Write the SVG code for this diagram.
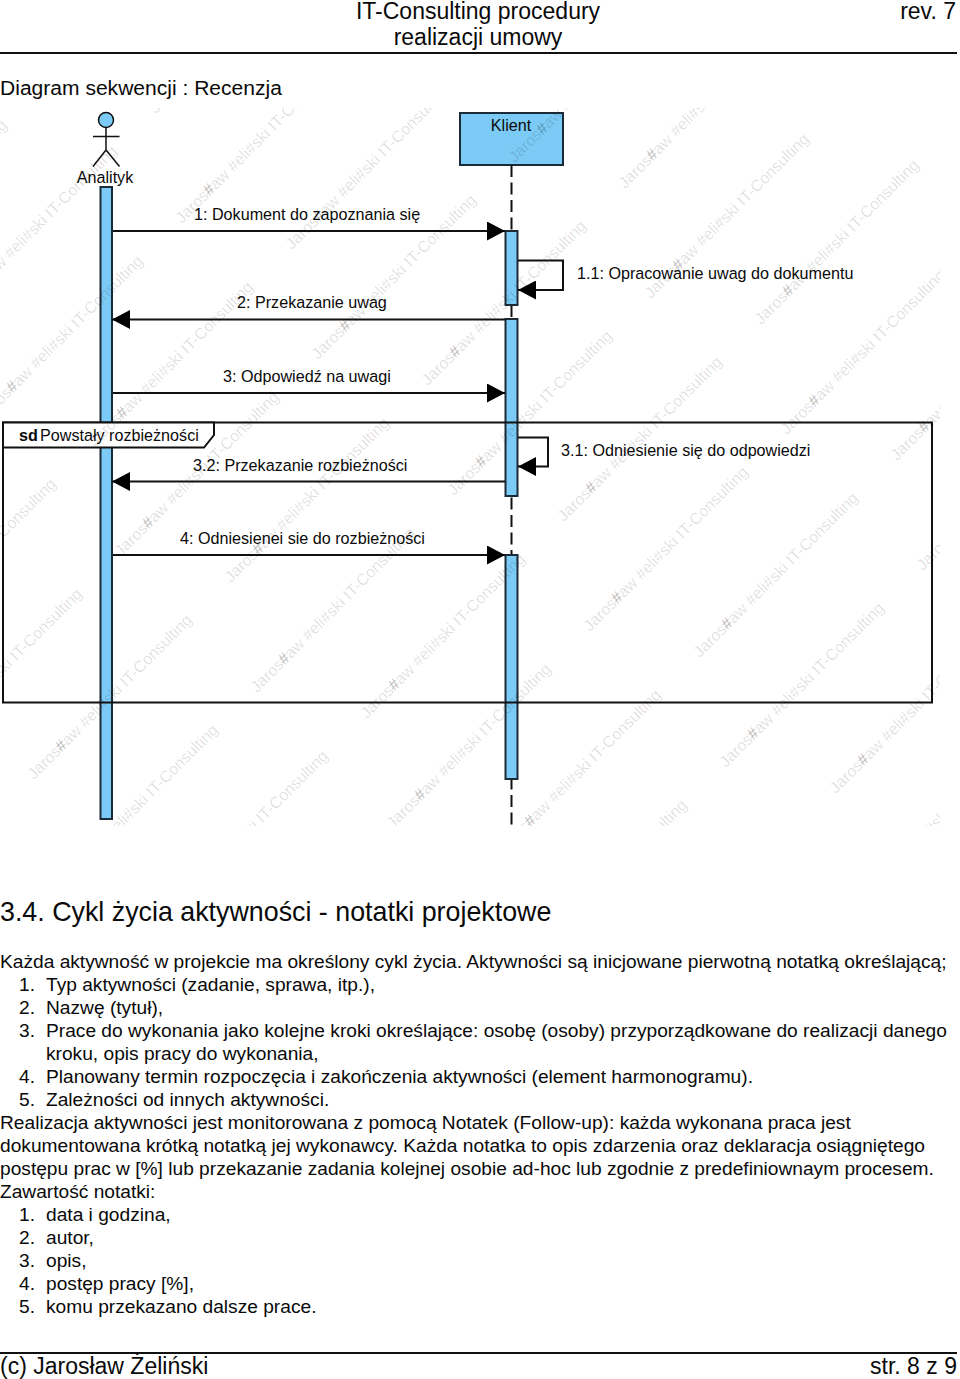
<svg xmlns="http://www.w3.org/2000/svg" width="960" height="1379" viewBox="0 0 960 1379">
<style>
text{font-family:"Liberation Sans",Arial,sans-serif;fill:#0a0a0a}
.b{font-size:19.17px}.h{font-size:23px}.l{font-size:16.15px}
.wm{font-size:16px;fill:#000;fill-opacity:.13;text-anchor:end}
.wm tspan{fill-opacity:.3}
.bar{fill:#7ccbf6;stroke:#1a2a36;stroke-width:2}
.ln{fill:none;stroke:#111;stroke-width:2}
.ah{fill:#000}
</style>
<defs>
<clipPath id="wc"><rect x="0" y="108" width="940" height="718"/></clipPath>
<marker id="ah" viewBox="0 0 18 19" refX="18" refY="9.5" markerWidth="18" markerHeight="19" markerUnits="userSpaceOnUse" orient="auto"><path class="ah" d="M0 0L18 9.5L0 19Z"/></marker>
</defs>
<rect width="960" height="1379" fill="#fff"/>
<g id="page-header">
<text class="h" x="478" y="19" text-anchor="middle">IT-Consulting procedury</text>
<text class="h" x="478" y="45" text-anchor="middle">realizacji umowy</text>
<text class="h" x="956" y="19" text-anchor="end">rev. 7</text>
<path class="ln" d="M0 53H957"/>
<text x="0" y="95" font-size="21.05">Diagram sekwencji : Recenzja</text>
</g>
<g id="actor-analityk">
<circle cx="106" cy="120" r="7.5" fill="#7ccbf6" stroke="#111" stroke-width="1.5"/>
<path fill="none" stroke="#111" stroke-width="1.5" d="M93 136.5H119.5M106 127.5V150M93 166.5L106 150L119.5 166.5"/>
<text class="l" x="105" y="182.5" text-anchor="middle">Analityk</text>
<rect class="bar" x="100.5" y="187" width="11.5" height="632"/>
</g>
<g id="lifeline-klient">
<path stroke="#111" stroke-width="2" stroke-dasharray="12 5.5" d="M511.5 165V825"/>
<rect x="460" y="113" width="103" height="52" fill="#7ccbf6" stroke="#1a2a36" stroke-width="2"/>
<text class="l" x="511" y="131" text-anchor="middle">Klient</text>
<rect class="bar" x="505.5" y="231" width="12" height="74"/>
<rect class="bar" x="505.5" y="319" width="12" height="177"/>
<rect class="bar" x="505.5" y="555" width="12" height="224"/>
</g>
<g id="connectors">
<path class="ln" marker-end="url(#ah)" d="M113 231H505"/>
<path class="ln" marker-end="url(#ah)" d="M518 260.5H563V290H518"/>
<path class="ln" marker-end="url(#ah)" d="M505 319.5H112"/>
<path class="ln" marker-end="url(#ah)" d="M113 393H505"/>
<path class="ln" marker-end="url(#ah)" d="M518 437.5H548V466.5H518"/>
<path class="ln" marker-end="url(#ah)" d="M505 481.5H112"/>
<path class="ln" marker-end="url(#ah)" d="M113 555H505"/>
</g>
<g id="frame-sd">
<rect class="ln" x="3" y="422.5" width="929" height="280"/>
<path d="M3 422.5H214V435L204 447.5H3Z" fill="#fff" stroke="#111" stroke-width="2"/>
<text class="l" x="19" y="440.5" font-weight="bold">sd</text>
<text class="l" x="40" y="440.5">Powstały rozbieżności</text>
</g>
<g id="labels">
<text class="l" x="194" y="219.5">1: Dokument do zapoznania się</text>
<text class="l" x="577" y="278.5">1.1: Opracowanie uwag do dokumentu</text>
<text class="l" x="237" y="307.5">2: Przekazanie uwag</text>
<text class="l" x="223" y="381.5">3: Odpowiedź na uwagi</text>
<text class="l" x="561" y="455.5">3.1: Odniesienie się do odpowiedzi</text>
<text class="l" x="193" y="470.5">3.2: Przekazanie rozbieżności</text>
<text class="l" x="180" y="543.5">4: Odniesienei sie do rozbieżności</text>
</g>
<g id="watermark" clip-path="url(#wc)"><g transform="translate(-3.5 1.5)">
<text class="wm" transform="translate(8 121) rotate(-45)" y="5">Jaros<tspan>#</tspan>aw #eli#ski IT-Consulting</text>
<text class="wm" transform="translate(144 257) rotate(-45)" y="5">Jaros<tspan>#</tspan>aw #eli#ski IT-Consulting</text>
<text class="wm" transform="translate(341 60) rotate(-45)" y="5">Jaros<tspan>#</tspan>aw #eli#ski IT-Consulting</text>
<text class="wm" transform="translate(83 590) rotate(-45)" y="5">Jaros<tspan>#</tspan>aw #eli#ski IT-Consulting</text>
<text class="wm" transform="translate(280 393) rotate(-45)" y="5">Jaros<tspan>#</tspan>aw #eli#ski IT-Consulting</text>
<text class="wm" transform="translate(477 196) rotate(-45)" y="5">Jaros<tspan>#</tspan>aw #eli#ski IT-Consulting</text>
<text class="wm" transform="translate(674 -1) rotate(-45)" y="5">Jaros<tspan>#</tspan>aw #eli#ski IT-Consulting</text>
<text class="wm" transform="translate(219 726) rotate(-45)" y="5">Jaros<tspan>#</tspan>aw #eli#ski IT-Consulting</text>
<text class="wm" transform="translate(416 529) rotate(-45)" y="5">Jaros<tspan>#</tspan>aw #eli#ski IT-Consulting</text>
<text class="wm" transform="translate(613 332) rotate(-45)" y="5">Jaros<tspan>#</tspan>aw #eli#ski IT-Consulting</text>
<text class="wm" transform="translate(810 135) rotate(-45)" y="5">Jaros<tspan>#</tspan>aw #eli#ski IT-Consulting</text>
<text class="wm" transform="translate(552 665) rotate(-45)" y="5">Jaros<tspan>#</tspan>aw #eli#ski IT-Consulting</text>
<text class="wm" transform="translate(749 468) rotate(-45)" y="5">Jaros<tspan>#</tspan>aw #eli#ski IT-Consulting</text>
<text class="wm" transform="translate(946 271) rotate(-45)" y="5">Jaros<tspan>#</tspan>aw #eli#ski IT-Consulting</text>
<text class="wm" transform="translate(688 801) rotate(-45)" y="5">Jaros<tspan>#</tspan>aw #eli#ski IT-Consulting</text>
<text class="wm" transform="translate(885 604) rotate(-45)" y="5">Jaros<tspan>#</tspan>aw #eli#ski IT-Consulting</text>
<text class="wm" transform="translate(1082 407) rotate(-45)" y="5">Jaros<tspan>#</tspan>aw #eli#ski IT-Consulting</text>
<text class="wm" transform="translate(1021 740) rotate(-45)" y="5">Jaros<tspan>#</tspan>aw #eli#ski IT-Consulting</text>
<text class="wm" transform="translate(118 147) rotate(-45)" y="5">Jaros<tspan>#</tspan>aw #eli#ski IT-Consulting</text>
<text class="wm" transform="translate(315 -50) rotate(-45)" y="5">Jaros<tspan>#</tspan>aw #eli#ski IT-Consulting</text>
<text class="wm" transform="translate(57 480) rotate(-45)" y="5">Jaros<tspan>#</tspan>aw #eli#ski IT-Consulting</text>
<text class="wm" transform="translate(254 283) rotate(-45)" y="5">Jaros<tspan>#</tspan>aw #eli#ski IT-Consulting</text>
<text class="wm" transform="translate(451 86) rotate(-45)" y="5">Jaros<tspan>#</tspan>aw #eli#ski IT-Consulting</text>
<text class="wm" transform="translate(193 616) rotate(-45)" y="5">Jaros<tspan>#</tspan>aw #eli#ski IT-Consulting</text>
<text class="wm" transform="translate(390 419) rotate(-45)" y="5">Jaros<tspan>#</tspan>aw #eli#ski IT-Consulting</text>
<text class="wm" transform="translate(587 222) rotate(-45)" y="5">Jaros<tspan>#</tspan>aw #eli#ski IT-Consulting</text>
<text class="wm" transform="translate(784 25) rotate(-45)" y="5">Jaros<tspan>#</tspan>aw #eli#ski IT-Consulting</text>
<text class="wm" transform="translate(329 752) rotate(-45)" y="5">Jaros<tspan>#</tspan>aw #eli#ski IT-Consulting</text>
<text class="wm" transform="translate(526 555) rotate(-45)" y="5">Jaros<tspan>#</tspan>aw #eli#ski IT-Consulting</text>
<text class="wm" transform="translate(723 358) rotate(-45)" y="5">Jaros<tspan>#</tspan>aw #eli#ski IT-Consulting</text>
<text class="wm" transform="translate(920 161) rotate(-45)" y="5">Jaros<tspan>#</tspan>aw #eli#ski IT-Consulting</text>
<text class="wm" transform="translate(662 691) rotate(-45)" y="5">Jaros<tspan>#</tspan>aw #eli#ski IT-Consulting</text>
<text class="wm" transform="translate(859 494) rotate(-45)" y="5">Jaros<tspan>#</tspan>aw #eli#ski IT-Consulting</text>
<text class="wm" transform="translate(1056 297) rotate(-45)" y="5">Jaros<tspan>#</tspan>aw #eli#ski IT-Consulting</text>
<text class="wm" transform="translate(798 827) rotate(-45)" y="5">Jaros<tspan>#</tspan>aw #eli#ski IT-Consulting</text>
<text class="wm" transform="translate(995 630) rotate(-45)" y="5">Jaros<tspan>#</tspan>aw #eli#ski IT-Consulting</text>
</g></g>
<g id="body">
<text x="0" y="921" font-size="26.82">3.4. Cykl życia aktywności - notatki projektowe</text>
<text class="b" x="0" y="967.5">Każda aktywność w projekcie ma określony cykl życia. Aktywności są inicjowane pierwotną notatką określającą;</text>
<text class="b" x="19" y="990.5">1.</text><text class="b" x="46" y="990.5">Typ aktywności (zadanie, sprawa, itp.),</text>
<text class="b" x="19" y="1013.5">2.</text><text class="b" x="46" y="1013.5">Nazwę (tytuł),</text>
<text class="b" x="19" y="1036.5">3.</text><text class="b" x="46" y="1036.5">Prace do wykonania jako kolejne kroki określające: osobę (osoby) przyporządkowane do realizacji danego</text>
<text class="b" x="46" y="1059.5">kroku, opis pracy do wykonania,</text>
<text class="b" x="19" y="1082.5">4.</text><text class="b" x="46" y="1082.5">Planowany termin rozpoczęcia i zakończenia aktywności (element harmonogramu).</text>
<text class="b" x="19" y="1105.5">5.</text><text class="b" x="46" y="1105.5">Zależności od innych aktywności.</text>
<text class="b" x="0" y="1128.5">Realizacja aktywności jest monitorowana z pomocą Notatek (Follow-up): każda wykonana praca jest</text>
<text class="b" x="0" y="1151.5">dokumentowana krótką notatką jej wykonawcy. Każda notatka to opis zdarzenia oraz deklaracja osiągniętego</text>
<text class="b" x="0" y="1174.5">postępu prac w [%] lub przekazanie zadania kolejnej osobie ad-hoc lub zgodnie z predefiniownaym procesem.</text>
<text class="b" x="0" y="1197.5">Zawartość notatki:</text>
<text class="b" x="19" y="1220.5">1.</text><text class="b" x="46" y="1220.5">data i godzina,</text>
<text class="b" x="19" y="1243.5">2.</text><text class="b" x="46" y="1243.5">autor,</text>
<text class="b" x="19" y="1266.5">3.</text><text class="b" x="46" y="1266.5">opis,</text>
<text class="b" x="19" y="1289.5">4.</text><text class="b" x="46" y="1289.5">postęp pracy [%],</text>
<text class="b" x="19" y="1312.5">5.</text><text class="b" x="46" y="1312.5">komu przekazano dalsze prace.</text>
</g>
<g id="page-footer">
<path class="ln" d="M0 1353H957"/>
<text class="h" x="0" y="1374">(c) Jarosław Żeliński</text>
<text class="h" x="957" y="1374" text-anchor="end">str. 8 z 9</text>
</g>
</svg>
